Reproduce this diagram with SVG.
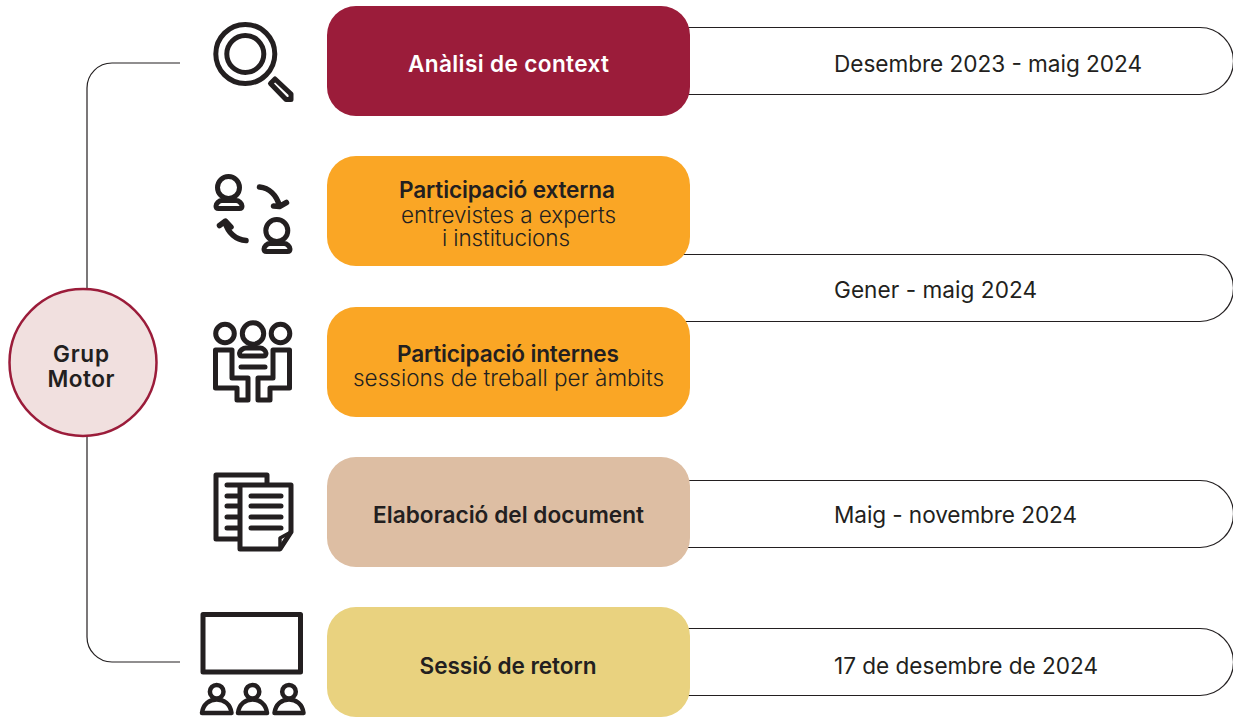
<svg xmlns="http://www.w3.org/2000/svg" width="1233" height="717" viewBox="0 0 1233 717">
<style>
text{font-family:Inter,"Liberation Sans",Arial,sans-serif;fill:#231f20;text-anchor:middle}
.b{font-size:22.600px;font-weight:600}
.r{font-size:22.500px;font-weight:300}
.d{font-size:22.600px;font-weight:400;text-anchor:start}
.c{fill:none;stroke:#231f20;stroke-width:1.2}
.i{fill:none;stroke:#231f20;stroke-width:5;stroke-linecap:round;stroke-linejoin:round}
</style>
<rect width="1233" height="717" fill="#fff"/>
<g id="connectors">
<path class="c" d="M180 63H112A25 25 0 0 0 87 88V637A25 25 0 0 0 112 662H180"/>
<path class="c" d="M680 27.500H1200A33.500 33.500 0 0 1 1233.500 61V61A33.500 33.500 0 0 1 1200 94.500H680"/>
<path class="c" d="M680 254.500H1200A33.500 33.500 0 0 1 1233.500 288V288A33.500 33.500 0 0 1 1200 321.500H680"/>
<path class="c" d="M680 480.500H1200A33.500 33.500 0 0 1 1233.500 514V514A33.500 33.500 0 0 1 1200 547.500H680"/>
<path class="c" d="M680 628.500H1200A33.500 33.500 0 0 1 1233.500 662V662A33.500 33.500 0 0 1 1200 695.500H680"/>
</g>
<g id="grup-motor">
<circle cx="83" cy="362.500" r="73.500" fill="#f1e0df" stroke="#9b1c3a" stroke-width="2.500"/>
<text class="b" x="81" y="362" textLength="56">Grup</text>
<text class="b" x="81" y="386.500" textLength="67">Motor</text>
</g>
<g id="node-analisi">
<rect x="327" y="6" width="363" height="110" rx="29" fill="#9b1c3a"/>
<text class="b" x="508.500" y="71.500" textLength="201" style="fill:#fff">Anàlisi de context</text>
<text class="d" x="834" y="71.500" textLength="308">Desembre 2023 - maig 2024</text>
<g class="i">
<circle cx="245.300" cy="54" r="29.500"/>
<circle cx="245.300" cy="54" r="18.500"/>
<path d="M270.500 83.500L275 79 291 94V99.500H286Z"/>
</g>
</g>
<g id="node-externa">
<rect x="327" y="156" width="363" height="110" rx="29" fill="#faa625"/>
<text class="b" x="507" y="197.500" textLength="216">Participació externa</text>
<text class="r" x="508.500" y="222.500" textLength="215">entrevistes a experts</text>
<text class="r" x="506" y="246" textLength="128">i institucions</text>
<g class="i">
<circle cx="228.500" cy="187.500" r="11"/>
<path d="M222 200.500H236C239 200.500 242 203.500 242 206C242 207.500 241 208.500 239.500 208.500H218.500C217 208.500 216 207.500 216 206C216 203.500 219 200.500 222 200.500Z"/>
<circle cx="276.800" cy="230.500" r="11"/>
<path d="M270 243.500H284C287 243.500 290 246.500 290 249C290 250.500 289 251.500 287.500 251.500H266.500C265 251.500 264 250.500 264 249C264 246.500 267 243.500 270 243.500Z"/>
<path d="M259.500 187C269 188 276.500 195 279.500 206M273.500 206L279.500 206.500 286.500 202.500" stroke-width="5.500"/>
<path d="M246 240.500C236 240 228 233 225 222M219.500 225.500L225.500 221 231 227" stroke-width="5.500"/>
</g>
</g>
<g id="node-internes">
<rect x="327" y="307" width="363" height="110" rx="29" fill="#faa625"/>
<text class="b" x="508" y="361.500" textLength="222">Participació internes</text>
<text class="r" x="508.500" y="385.500" textLength="311">sessions de treball per àmbits</text>
<g class="i">
<circle cx="225" cy="333.500" r="9.300"/>
<circle cx="253" cy="333.500" r="10.700"/>
<circle cx="280.500" cy="333.500" r="9.300"/>
<path d="M246 348H260C263 348 266 351 266 353C266 355 265 356 263 356H242C240 356 239.500 355 239.500 353C239.500 351 243 348 246 348Z"/>
<path d="M241 367H265"/>
<path d="M215.500 350H232V378H248V400H237V388H215.500Z"/>
<path d="M289.500 350H273V378H258V400H270V388H289.500Z"/>
</g>
</g>
<g id="node-elaboracio">
<rect x="327" y="457" width="363" height="110" rx="29" fill="#ddbea3"/>
<text class="b" x="508.500" y="522.500" textLength="271">Elaboració del document</text>
<text class="d" x="834" y="522.500" textLength="243">Maig - novembre 2024</text>
<g class="i">
<path d="M267 483V475H216V539H239"/>
<path d="M227 485H291V532L280 549H240V485"/>
<path d="M291 532L280 549V538Z" stroke-width="3.500"/>
<path d="M227 496H238M227 506H238M227 517H238M227 528H238"/>
<path d="M251 496H281M251 506H281M251 517H281M251 528H281"/>
</g>
</g>
<g id="node-retorn">
<rect x="327" y="607" width="363" height="110" rx="29" fill="#e9d27f"/>
<text class="b" x="508" y="673.500" textLength="177">Sessió de retorn</text>
<text class="d" x="834" y="673.500" textLength="264">17 de desembre de 2024</text>
<g class="i">
<rect x="203" y="614.500" width="97.500" height="57.500"/>
<g stroke-width="4.500">
<circle cx="216.700" cy="691.700" r="6.800"/><path d="M202 713C203 704 209.500 699.500 216.700 699.500C223.900 699.500 230.500 704 231.500 713Z"/>
<circle cx="252.500" cy="691.700" r="6.800"/><path d="M238 713C239 704 245.500 699.500 252.500 699.500C259.500 699.500 266 704 267 713Z"/>
<circle cx="289" cy="691.700" r="6.800"/><path d="M274.500 713C275.500 704 282 699.500 289 699.500C296 699.500 302.500 704 303.500 713Z"/>
</g>
</g>
</g>
<text class="d" x="834" y="297.500" textLength="203">Gener - maig 2024</text>
</svg>
